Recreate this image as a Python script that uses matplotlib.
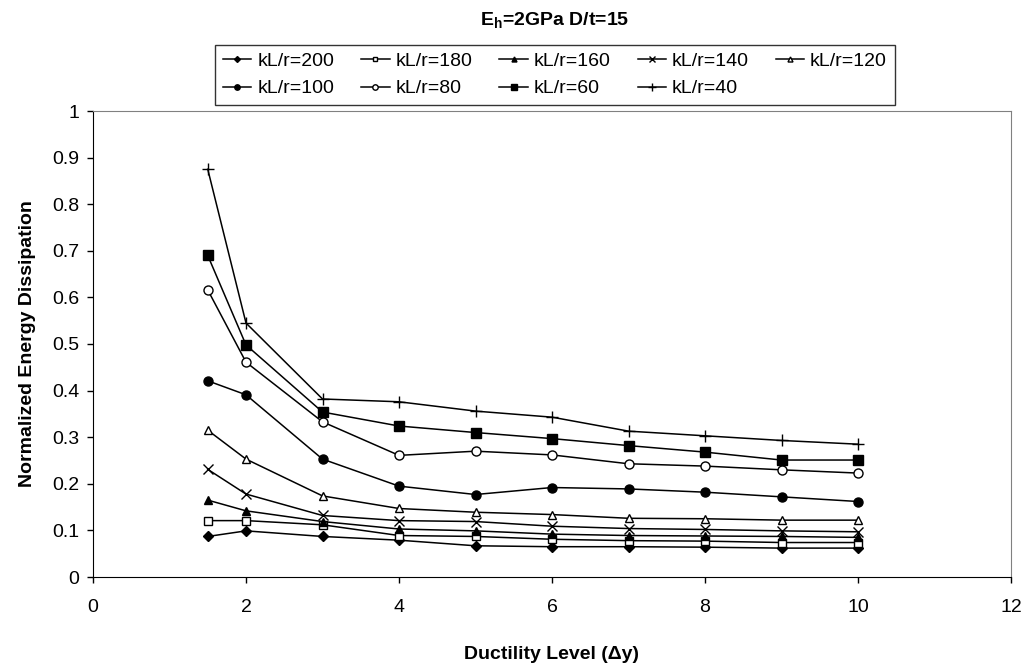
import matplotlib
matplotlib.use('Agg')
import matplotlib.pyplot as plt

plt.rcParams['font.family'] = ['Liberation Sans', 'DejaVu Sans']
plt.rcParams['mathtext.fontset'] = 'custom'
plt.rcParams['mathtext.rm'] = 'Liberation Sans'
plt.rcParams['mathtext.bf'] = 'Liberation Sans:bold'

# ductility levels
x = [1.5, 2, 3, 4, 5, 6, 7, 8, 9, 10]

# normalized energy dissipation, one list per kL/r
kl200 = [0.087, 0.099, 0.087, 0.079, 0.067, 0.065, 0.065, 0.064, 0.062, 0.062]
kl180 = [0.121, 0.121, 0.112, 0.089, 0.087, 0.081, 0.078, 0.077, 0.074, 0.074]
kl160 = [0.165, 0.142, 0.119, 0.103, 0.099, 0.092, 0.089, 0.088, 0.087, 0.085]
kl140 = [0.231, 0.178, 0.132, 0.121, 0.119, 0.109, 0.104, 0.102, 0.099, 0.097]
kl120 = [0.315, 0.253, 0.174, 0.147, 0.139, 0.134, 0.126, 0.125, 0.122, 0.122]
kl100 = [0.421, 0.391, 0.253, 0.195, 0.177, 0.192, 0.189, 0.182, 0.172, 0.162]
kl80 = [0.616, 0.461, 0.333, 0.261, 0.270, 0.262, 0.243, 0.238, 0.230, 0.223]
kl60 = [0.690, 0.498, 0.354, 0.324, 0.310, 0.297, 0.282, 0.268, 0.251, 0.251]
kl40 = [0.875, 0.545, 0.382, 0.376, 0.356, 0.343, 0.313, 0.303, 0.293, 0.285]

labels = ['kL/r=200', 'kL/r=180', 'kL/r=160', 'kL/r=140', 'kL/r=120',
          'kL/r=100', 'kL/r=80', 'kL/r=60', 'kL/r=40']

fig = plt.figure(figsize=(10.25, 6.67), dpi=100)
ax = fig.add_axes([93 / 1025, 90 / 667, 918 / 1025, 466 / 667])

# marker, filled?, size
styles = [('D', True, 5), ('s', False, 6), ('^', True, 6), ('x', True, 7),
          ('^', False, 6), ('o', True, 6.5), ('o', False, 6.5), ('s', True, 6.5),
          ('+', True, 9)]
series = [kl200, kl180, kl160, kl140, kl120, kl100, kl80, kl60, kl40]

lines = []
for y, lab, (m, filled, ms) in zip(series, labels, styles):
    ln, = ax.plot(x, y, color='black', lw=1.1, marker=m, ms=ms,
                  markerfacecolor='black' if filled else 'white',
                  markeredgecolor='black', markeredgewidth=1.0, label=lab)
    lines.append(ln)

ax.set_xlim(0, 12)
ax.set_ylim(0, 1)
ax.set_xticks(range(0, 13, 2))
ax.set_yticks([i / 10 for i in range(11)])
ax.set_yticklabels(['0', '0.1', '0.2', '0.3', '0.4', '0.5', '0.6', '0.7', '0.8', '0.9', '1'])
ax.tick_params(direction='out', length=4, width=1, labelsize=14)
ax.tick_params(axis='y', pad=6)
ax.tick_params(axis='x', pad=12)
for s in ['top', 'right']:
    ax.spines[s].set_color('#808080')
for s in ['left', 'bottom']:
    ax.spines[s].set_color('black')

ax.set_xlabel('Ductility Level (Δy)', fontsize=14, fontweight='bold')
ax.xaxis.set_label_coords(0.5, -0.148)
ax.set_ylabel('Normalized Energy Dissipation', fontsize=14, fontweight='bold')
ax.yaxis.set_label_coords(-0.062, 0.5)

fig.text(555 / 1025, 1 - 20 / 667, r'$\mathbf{E_h}$=2GPa D/t=15',
         fontsize=14, fontweight='bold', ha='center', va='center')

# reorder so the legend reads row by row
order = [0, 5, 1, 6, 2, 7, 3, 8, 4]
leg = fig.legend([lines[i] for i in order], [labels[i] for i in order],
                 loc='center', bbox_to_anchor=(555 / 1025, 1 - 75 / 667),
                 ncol=5, fontsize=14, frameon=True, fancybox=False,
                 edgecolor='black', markerscale=0.6, handlelength=1.45,
                 handletextpad=0.3, columnspacing=1.4, labelspacing=0.5,
                 borderpad=0.4)
leg.get_frame().set_linewidth(1.0)

plt.savefig('out.png', dpi=100)
